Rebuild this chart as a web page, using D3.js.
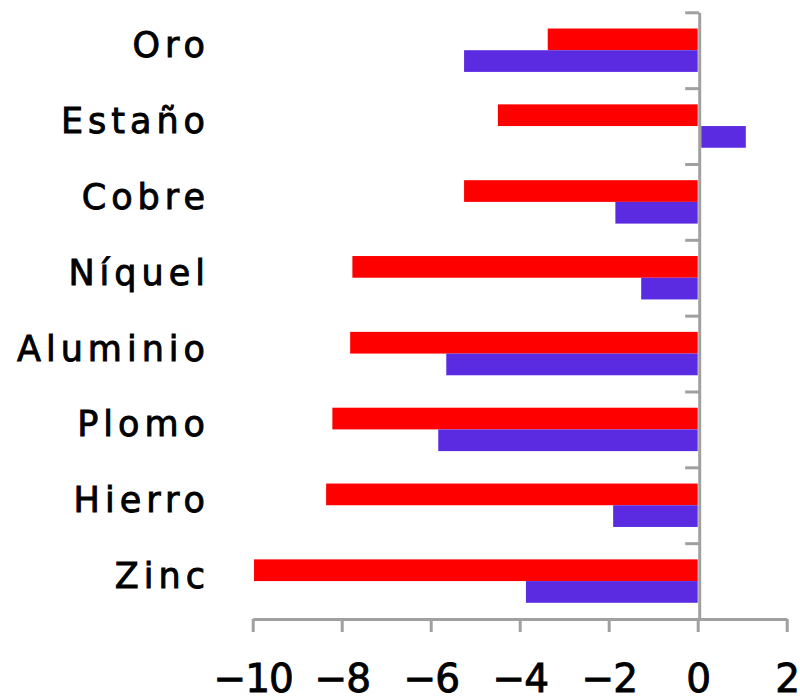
<!DOCTYPE html>
<html>
<head>
<meta charset="utf-8">
<script src="https://cdn.jsdelivr.net/npm/d3@7"></script>
<style>
  html, body { margin: 0; padding: 0; background: #fff; }
  svg { display: block; }
</style>
</head>
<body>
<svg id="chart" width="800" height="698"></svg>
<script>
const categories = ["Oro", "Estaño", "Cobre", "Níquel", "Aluminio", "Plomo", "Hierro", "Zinc"];
const seriesNames = ["rojo", "morado"];
const redValues = [-3.37, -4.49, -5.25, -7.76, -7.81, -8.21, -8.35, -9.97];
const purpleValues = [-5.25, 1.07, -1.85, -1.27, -5.65, -5.83, -1.90, -3.86];
const xTicks = [-10, -8, -6, -4, -2, 0, 2];
const colors = ["#FF0000", "#5B2BE2"];

const svg = d3.select("#chart");
const axisColor = "#A0A0A0";

const x = d3.scaleLinear().domain([-10, 2]).range([252.7, 786.7]);
const plotTop = 12.3, plotBottom = 619;
const y = d3.scaleBand().domain(categories).range([plotTop, plotBottom]).padding(0);
const ySub = d3.scaleBand().domain(seriesNames).range([0, y.step()]).paddingInner(0).paddingOuter(0.747);

const data = categories.map((c, i) => ({ cat: c, vals: [redValues[i], purpleValues[i]] }));

// bars
const g = svg.append("g");
data.forEach(d => {
  d.vals.forEach((v, j) => {
    const x0 = v < 0 ? x(v) : x(0) + 3.5;
    const x1 = v < 0 ? x(0) : x(v) + 0.5;
    g.append("rect")
      .attr("x", x0)
      .attr("y", y(d.cat) + ySub(seriesNames[j]))
      .attr("width", Math.max(0, x1 - x0))
      .attr("height", ySub.bandwidth())
      .attr("fill", colors[j]);
  });
});

// vertical (category) axis at zero
const yIdx = d3.scaleLinear().domain([0, categories.length]).range([plotTop, plotBottom]);
const leftAxis = d3.axisLeft(yIdx).ticks(categories.length).tickFormat("").tickSizeInner(14).tickSizeOuter(0);
const ga = svg.append("g").attr("transform", `translate(${x(0) + 1.5},0)`).call(leftAxis);
ga.selectAll("path.domain").attr("stroke", axisColor).attr("stroke-width", 3);
ga.selectAll(".tick line").attr("stroke", axisColor).attr("stroke-width", 3);

// bottom axis
const bottomAxis = d3.axisBottom(x).tickValues(xTicks).tickSizeInner(13).tickSizeOuter(0).tickPadding(60);
const gb = svg.append("g").attr("transform", `translate(0,${plotBottom})`).call(bottomAxis);
gb.selectAll("path.domain").attr("stroke", axisColor).attr("stroke-width", 3);
gb.selectAll(".tick line").attr("stroke", axisColor).attr("stroke-width", 3);
gb.selectAll(".tick text")
  .attr("font-family", "DejaVu Sans, sans-serif")
  .attr("font-size", 39)
  .attr("letter-spacing", -1)
  .attr("fill", "#000")
  .attr("stroke", "#000")
  .attr("stroke-width", 0.9)
  .attr("dy", "0");

// category labels
svg.append("g").selectAll("text").data(categories).join("text")
  .attr("x", 210)
  .attr("y", d => y(d) + y.bandwidth() / 2 + 7)
  .attr("text-anchor", "end")
  .attr("font-family", "DejaVu Sans, sans-serif")
  .attr("font-size", 35)
  .attr("letter-spacing", 5)
  .attr("fill", "#000")
  .attr("stroke", "#000")
  .attr("stroke-width", 0.9)
  .text(d => d);
</script>
</body>
</html>
